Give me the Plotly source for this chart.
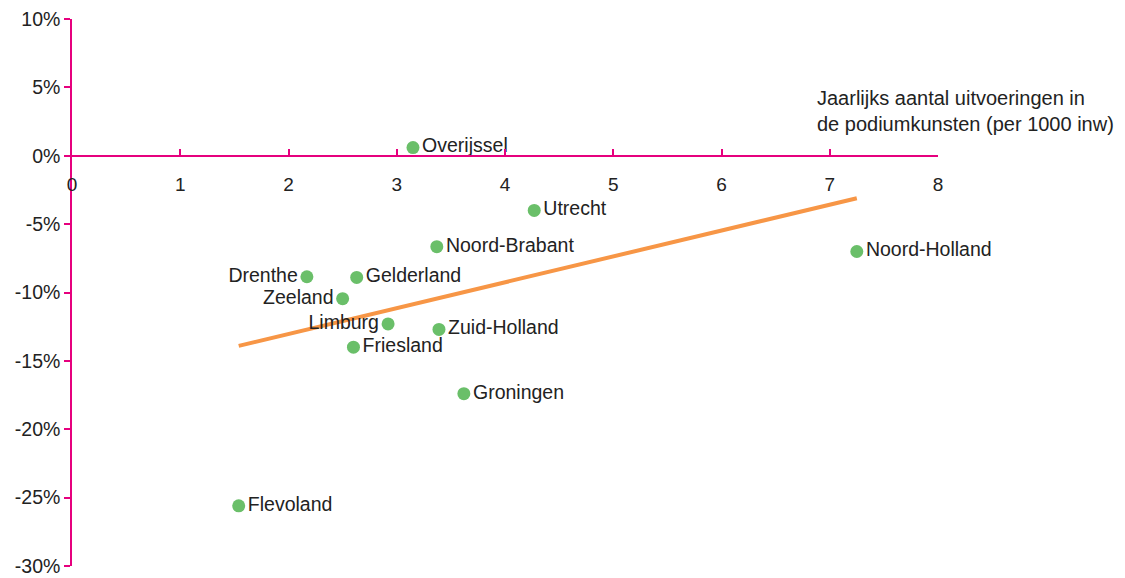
import numpy as np
import plotly.graph_objects as go

provinces = ["Overijssel", "Utrecht", "Noord-Brabant", "Noord-Holland", "Drenthe",
             "Gelderland", "Zeeland", "Limburg", "Zuid-Holland", "Friesland",
             "Groningen", "Flevoland"]
performances = [3.15, 4.27, 3.37, 7.25, 2.17, 2.63, 2.50, 2.92, 3.39, 2.60, 3.62, 1.54]
change_pct = [0.6, -4.0, -6.65, -7.0, -8.85, -8.9, -10.45, -12.3, -12.7, -14.0, -17.4, -25.6]
label_side = ["middle right", "middle right", "middle right", "middle right", "middle left",
              "middle right", "middle left", "middle left", "middle right", "middle right",
              "middle right", "middle right"]

x_ticks = [0, 1, 2, 3, 4, 5, 6, 7, 8]
y_ticks = [10, 5, 0, -5, -10, -15, -20, -25, -30]
y_ticklabels = [f"{v}%" for v in y_ticks]
axis_title = "Jaarlijks aantal uitvoeringen in<br>de podiumkunsten (per 1000 inw)"

MAGENTA = "#e6007e"
FONT = "Liberation Sans, Arial, sans-serif"
TXT = "#222222"

slope, intercept = np.polyfit(performances, change_pct, 1)
tx = np.array([min(performances), max(performances)])
ty = slope * tx + intercept

fig = go.Figure()
fig.add_trace(go.Scatter(x=tx, y=ty, mode="lines", cliponaxis=False,
                         line=dict(color="#f79646", width=4), hoverinfo="skip"))
fig.add_trace(go.Scatter(x=performances, y=change_pct, mode="markers+text",
                         text=provinces, textposition=label_side, cliponaxis=False,
                         marker=dict(color="#6abf69", size=13),
                         textfont=dict(family=FONT, size=19.5, color=TXT)))

fig.add_annotation(x=6.86, y=3.3, xref="x", yref="y", text=axis_title,
                   showarrow=False, xanchor="left", yanchor="middle", align="left",
                   font=dict(family=FONT, size=20, color=TXT))

fig.update_layout(
    width=1125, height=578, showlegend=False,
    plot_bgcolor="white", paper_bgcolor="white",
    margin=dict(l=64, r=195, t=11, b=20),
    font=dict(family=FONT, size=19, color=TXT),
    xaxis=dict(range=[0, 8], tickvals=x_ticks, showgrid=False, zeroline=False,
               showline=True, linecolor=MAGENTA, linewidth=1.5, automargin=False,
               ticks="inside", ticklen=6, tickcolor=MAGENTA, tickwidth=1.5,
               anchor="free", position=0.75, ticklabelstandoff=12,
               ticklabeloverflow="allow",
               tickfont=dict(family=FONT, size=19, color=TXT)),
    yaxis=dict(range=[-30, 10], tickvals=y_ticks, ticktext=y_ticklabels,
               showgrid=False, zeroline=False, automargin=False,
               showline=True, linecolor=MAGENTA, linewidth=1.5,
               ticks="outside", ticklen=6, tickcolor=MAGENTA, tickwidth=1.5,
               ticklabeloverflow="allow",
               tickfont=dict(family=FONT, size=19.5, color=TXT)),
)

fig.write_html("out.html")
